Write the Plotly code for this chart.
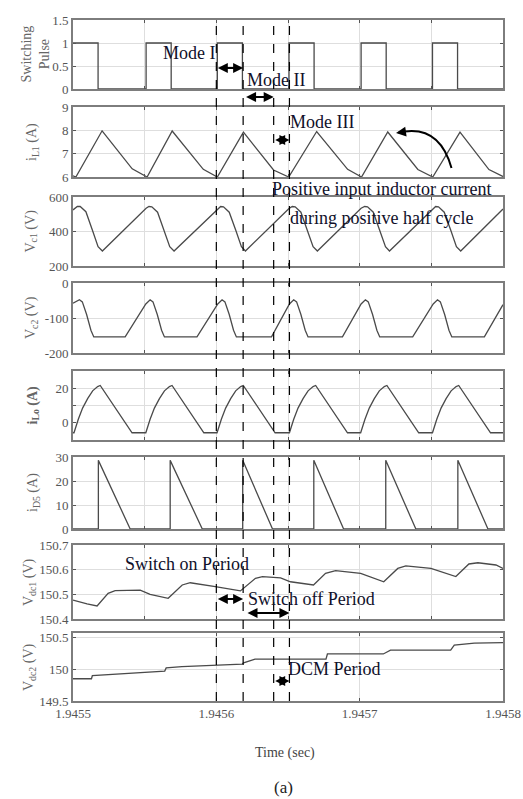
import plotly.graph_objects as go

# ---------------- data (time offsets in microseconds from T0) ----------------
T0 = 1.9455
x_tickvals_s = [1.9455, 1.9456, 1.9457, 1.9458]
x_ticklabels = ["1.9455", "1.9456", "1.9457", "1.9458"]

pulse_t = [0, 17.5, 17.5, 51, 51, 68.5, 68.5, 100.7, 100.7, 118.2, 118.2, 150.7, 150.7,
           168.2, 168.2, 201, 201, 218.5, 218.5, 250.8, 250.8, 268.3, 268.3, 300]
pulse_v = [1, 1, 0, 0, 1, 1, 0, 0, 1, 1, 0, 0, 1, 1, 0, 0, 1, 1, 0, 0, 1, 1, 0, 0]

il1_t = [0, 2, 20.3, 41.3, 51.7, 69.2, 90.9, 100.7, 118.9, 139.9, 150.5, 170, 191.6,
         201.3, 219.6, 240.6, 251, 270, 290.2, 300]
il1_v = [6.05, 6.0, 7.98, 6.35, 6.0, 7.97, 6.33, 6.0, 7.92, 6.3, 6.0, 7.95, 6.33,
         6.0, 7.93, 6.32, 6.0, 7.92, 6.32, 6.02]

vc1_t = [0, 3, 5, 9, 13.5, 17.5, 20.5,
         51, 53, 55, 59, 63.5, 67.5, 70.5,
         100.7, 103, 105, 109, 113.5, 117.5, 120.3,
         150.7, 153, 155, 159, 163.5, 167.5, 170.5,
         201, 203.5, 205.5, 209.5, 214, 218, 220.8,
         250.8, 253, 255, 259, 263.5, 267.5, 270.5, 300]
vc1_v = [525, 545, 545, 515, 409, 312, 287,
         535, 545, 543, 512, 409, 312, 287,
         530, 545, 543, 512, 409, 312, 287,
         533, 545, 543, 512, 409, 312, 287,
         535, 545, 543, 512, 409, 312, 287,
         533, 545, 543, 512, 409, 312, 287, 530]

vc2_t = [0, 4.5, 6.5, 9.5, 12.5, 14.5, 36.4,
         50.8, 53.8, 55.8, 58.8, 61.8, 63.8, 86.5,
         101, 104, 106, 109, 112, 114, 138.5,
         151, 154, 156, 159, 162, 164, 188,
         201, 204, 206, 209, 212, 214, 237,
         251.3, 254.3, 256.3, 259.3, 262.3, 264.3, 287, 300]
vc2_v = [-58, -48, -54, -90, -135, -154, -154,
         -60, -48, -54, -90, -135, -154, -154,
         -60, -48, -54, -90, -135, -154, -154,
         -60, -48, -54, -90, -135, -154, -154,
         -60, -48, -54, -90, -135, -154, -154,
         -60, -48, -54, -90, -135, -154, -154, -62]

ilo_t = [0, 0.7, 3.7, 6.7, 10.2, 13.7, 17.2, 19, 41.2,
         50.8, 53.8, 56.8, 60.3, 63.8, 67.3, 69.1, 91.3,
         100.5, 103.5, 106.5, 110, 113.5, 117, 118.8, 141,
         151, 154, 157, 160.5, 164, 167.5, 169.3, 191.5,
         200.7, 203.7, 206.7, 210.2, 213.7, 217.2, 219, 241.2,
         250.8, 253.8, 256.8, 260.3, 263.8, 267.3, 269.1, 291.3, 300]
ilo_v = [-5.8, -5.8, 2, 8.5, 14, 18.5, 21, 21.6, -5.8,
         -5.8, 2, 8.5, 14, 18.5, 21, 21.6, -5.8,
         -5.8, 2, 8.5, 14, 18.5, 21, 21.6, -5.8,
         -5.8, 2, 8.5, 14, 18.5, 21, 21.6, -5.8,
         -5.8, 2, 8.5, 14, 18.5, 21, 21.6, -5.8,
         -5.8, 2, 8.5, 14, 18.5, 21, 21.6, -5.8, -5.8]

id5_t = [0, 17.7, 17.7, 39.9, 67.8, 67.8, 90.2, 118.4, 118.4, 139.2, 168, 168, 188.8,
         218.2, 218.2, 239.2, 268.5, 268.5, 289.5, 300]
id5_v = [0, 0, 28.6, 0, 0, 28.6, 0, 0, 28.6, 0, 0, 28.6, 0, 0, 28.6, 0, 0, 28.6, 0, 0]

vdc1_t = [0, 9.8, 16.8, 24.5, 29.4, 46.9, 53.8, 66.4, 76.2, 81.8, 99.3, 116.8, 127.3,
          132.2, 144.8, 151.7, 167.8, 176.2, 183.2, 200.7, 216.8, 226.6, 232.2, 249.7,
          267.1, 276.2, 282.5, 295.1, 300]
vdc1_v = [150.477, 150.461, 150.453, 150.504, 150.515, 150.517, 150.50, 150.484, 150.538,
          150.547, 150.531, 150.514, 150.565, 150.572, 150.567, 150.551, 150.538, 150.585,
          150.596, 150.585, 150.551, 150.605, 150.615, 150.605, 150.572, 150.623, 150.628,
          150.619, 150.605]

vdc2_t = [0, 12.9, 13.5, 20, 64, 65, 76, 118, 119, 127, 176.5, 177.5, 216.5, 221.5,
          263.5, 266, 280, 300]
vdc2_v = [149.85, 149.85, 149.90, 149.91, 149.97, 150.02, 150.04, 150.08, 150.10, 150.16,
          150.16, 150.24, 150.24, 150.30, 150.30, 150.38, 150.41, 150.42]

# mode boundary instants (dashed lines), microseconds
mode_lines_us = [100, 118.7, 140, 151]

# y axes: range, tick values, tick labels, title
y_ranges = [[0, 1.5], [6, 9], [200, 600], [-200, 0], [-10, 30], [0, 30],
            [150.4, 150.7], [149.5, 150.57]]
y_tickvals = [[0, 0.5, 1, 1.5], [6, 7, 8, 9], [200, 400, 600], [-200, -100, 0],
              [0, 10, 20], [0, 10, 20, 30], [150.4, 150.5, 150.6, 150.7],
              [149.5, 150, 150.5]]
y_ticktext = [["0", "0.5", "1", "1.5"], ["6", "7", "8", "9"], ["200", "400", "600"],
              ["-200", "-100", "0"], ["0", "", "20"], ["0", "10", "20", "30"],
              ["150.4", "150.5", "150.6", "150.7"], ["149.5", "150", "150.5"]]
y_titles = ["Switching<br>Pulse", "i<sub>L1</sub> (A)", "V<sub>c1</sub> (V)",
            "V<sub>c2</sub> (V)", "<b>i<sub>Lo</sub> (A)</b>", "i<sub>D5</sub> (A)",
            "V<sub>dc1</sub> (V)", "V<sub>dc2</sub> (V)"]

series = [(pulse_t, pulse_v), (il1_t, il1_v), (vc1_t, vc1_v), (vc2_t, vc2_v),
          (ilo_t, ilo_v), (id5_t, id5_v), (vdc1_t, vdc1_v), (vdc2_t, vdc2_v)]

# ---------------- layout geometry (pixels) ----------------
W, H = 523, 799
X0, X1 = 73, 503
panels_px = [(20, 89), (107, 177), (197, 266), (283, 353), (371, 440), (457, 529),
             (545, 619), (633, 701)]
title_x_px = [35, 33, 31, 31, 33, 33, 29, 29]

FONT = "Liberation Serif, Times New Roman, serif"
LINE = "#4a4a4a"
FRAME = "#7d7d7d"
GRID = "#dedede"
TICKC = "#555555"


def px(x):
    return x / W


def py(y):
    return 1 - y / H


def tsec(us):
    return T0 + us * 1e-6


fig = go.Figure()
n = len(series)
layout = dict(template="none", width=W, height=H, margin=dict(l=0, r=0, t=0, b=0, pad=0),
              paper_bgcolor="white", plot_bgcolor="white", showlegend=False,
              font=dict(family=FONT, color=TICKC, size=13))

upper_grid = [tsec(k * 50) for k in range(7)]

for i, (t, v) in enumerate(series):
    k = "" if i == 0 else str(i + 1)
    fig.add_trace(go.Scatter(x=[tsec(u) for u in t], y=v, mode="lines",
                             xaxis="x" + k, yaxis="y" + k,
                             line=dict(color=LINE, width=1.3), hoverinfo="skip"))
    top, bot = panels_px[i]
    last = (i == n - 1)
    layout["xaxis" + k] = dict(
        domain=[px(X0), px(X1)], range=[tsec(0), tsec(300)], anchor="y" + k,
        automargin=False,
        tickvals=x_tickvals_s if last else upper_grid,
        ticktext=x_ticklabels if last else None,
        showticklabels=last, showgrid=True, gridcolor=GRID, gridwidth=1,
        zeroline=False, showline=True, linecolor=FRAME, linewidth=1.6, mirror="ticks",
        ticks="inside", ticklen=3, tickcolor=TICKC,
        tickfont=dict(family=FONT, size=13, color=TICKC))
    if i > 0:
        layout["xaxis" + k]["matches"] = "x"
    layout["yaxis" + k] = dict(
        domain=[py(bot), py(top)], range=y_ranges[i], anchor="x" + k,
        automargin=False,
        tickvals=y_tickvals[i], ticktext=y_ticktext[i], showgrid=True,
        gridcolor=GRID, gridwidth=1, zeroline=False, showline=True, linecolor=FRAME,
        linewidth=1.6, mirror="ticks", ticks="inside", ticklen=3, tickcolor=TICKC,
        tickfont=dict(family=FONT, size=13, color=TICKC))

fig.update_layout(**layout)

# dashed mode boundary lines
shapes = []
for d in mode_lines_us:
    shapes.append(dict(type="line", xref="x8", yref="paper", x0=tsec(d), x1=tsec(d),
                       y0=py(701), y1=py(20),
                       line=dict(color="black", width=1.2, dash="dash")))
# curved arrow body
shapes.append(dict(type="path", xref="paper", yref="paper",
                   path=f"M {px(451.5)},{py(168)} Q {px(440)},{py(127)} {px(405)},{py(131.5)}",
                   line=dict(color="black", width=2)))
fig.update_layout(shapes=shapes)

ann = []
# y axis titles
for i, ttl in enumerate(y_titles):
    top, bot = panels_px[i]
    ann.append(dict(text=ttl, xref="paper", yref="paper", x=px(title_x_px[i]),
                    y=py((top + bot) / 2), xanchor="center", yanchor="middle",
                    textangle=-90, showarrow=False,
                    font=dict(family=FONT, size=14, color="#666666")))

TXT = "#10102a"


def label(text, x_left, y_mid, size=18):
    ann.append(dict(text=text, xref="paper", yref="paper", x=px(x_left), y=py(y_mid),
                    xanchor="left", yanchor="middle", showarrow=False,
                    font=dict(family=FONT, size=size, color=TXT)))


def darrow(us0, us1, y_px):
    ann.append(dict(text="", xref="x8", yref="paper", x=tsec(us1), y=py(y_px),
                    axref="x8", ayref="pixel", ax=tsec(us0), ay=0, showarrow=True,
                    arrowhead=2, arrowside="end+start", arrowsize=1, arrowwidth=2,
                    arrowcolor="black", standoff=0, startstandoff=0))


label("Mode I", 161, 53)
label("Mode II", 245, 80)
label("Mode III", 288, 122)
label("Positive input inductor current", 270, 189)
label("during positive half cycle", 288, 218)
label("Switch on Period", 123, 564)
label("Switch off Period", 246, 599)
label("DCM Period", 286, 669)

darrow(mode_lines_us[0], mode_lines_us[1], 68)
darrow(mode_lines_us[1] + 1, mode_lines_us[2], 97)
darrow(mode_lines_us[2], mode_lines_us[3], 140)
darrow(mode_lines_us[0], mode_lines_us[1], 599)
darrow(mode_lines_us[1] + 2, mode_lines_us[3], 613)
darrow(mode_lines_us[2], mode_lines_us[3], 681)

# curved arrow head
ann.append(dict(text="", xref="paper", yref="paper", x=px(396), y=py(133),
                axref="pixel", ayref="pixel", ax=11, ay=-1.5, showarrow=True,
                arrowhead=2, arrowsize=1, arrowwidth=2, arrowcolor="black",
                standoff=0))

ann.append(dict(text="Time (sec)", xref="paper", yref="paper", x=px(285), y=py(753),
                xanchor="center", yanchor="middle", showarrow=False,
                font=dict(family=FONT, size=14, color="#444444")))
ann.append(dict(text="(a)", xref="paper", yref="paper", x=px(283), y=py(787),
                xanchor="center", yanchor="middle", showarrow=False,
                font=dict(family=FONT, size=17, color="#222222")))

fig.update_layout(annotations=ann)
fig.write_html("out.html")
